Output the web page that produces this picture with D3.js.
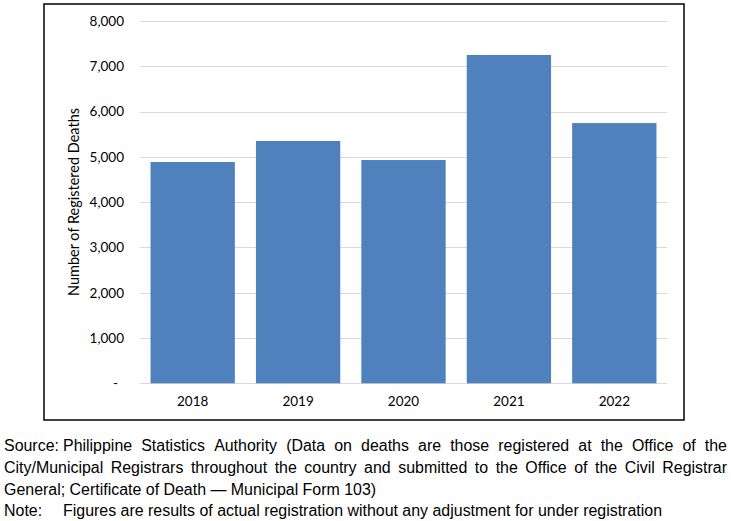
<!DOCTYPE html>
<html>
<head>
<meta charset="utf-8">
<script src="https://cdn.jsdelivr.net/npm/d3@7"></script>
<style>
  html, body { margin: 0; padding: 0; background: #fff; }
  svg { display: block; }
</style>
</head>
<body>
<svg id="chart" width="731" height="521"></svg>
<script>
const years = ["2018", "2019", "2020", "2021", "2022"];
const deaths = [4886, 5350, 4930, 7250, 5746];
const yTicks = [0, 1000, 2000, 3000, 4000, 5000, 6000, 7000, 8000];
const yTitle = "Number of Registered Deaths";
const sourceLabel = "Source:";
const sourceLine1 = "Philippine Statistics Authority (Data on deaths are those registered at the Office of the";
const sourceLine2 = "City/Municipal Registrars throughout the country and submitted to the Office of the Civil Registrar";
const sourceLine3 = "General; Certificate of Death \u2014 Municipal Form 103)";
const noteLabel = "Note:";
const noteText = "Figures are results of actual registration without any adjustment for under registration";

const svg = d3.select("#chart");
const chartFont = "Lato, Carlito, Calibri, 'Open Sans', sans-serif";
const noteFont = "'Liberation Sans Narrow', 'Arial Narrow', 'Liberation Sans', Arial, sans-serif";

// frame
svg.append("rect").attr("x", 44).attr("y", 4).attr("width", 640).attr("height", 416)
  .attr("fill", "none").attr("stroke", "#000").attr("stroke-width", 1.5);

const x = d3.scaleBand().domain(years).range([140, 667]).paddingInner(0.2).paddingOuter(0.1);
const y = d3.scaleLinear().domain([0, 8000]).range([383.3, 21]);

// gridlines
svg.append("g").selectAll("line").data(yTicks).join("line")
  .attr("x1", 140).attr("x2", 667)
  .attr("y1", d => Math.round(y(d)) + 0.5).attr("y2", d => Math.round(y(d)) + 0.5)
  .attr("stroke", "#d9d9d9").attr("stroke-width", 1);

// bars
svg.append("g").selectAll("rect").data(deaths).join("rect")
  .attr("x", (d, i) => x(years[i]))
  .attr("width", x.bandwidth())
  .attr("y", d => y(d))
  .attr("height", d => y(0) - y(d))
  .attr("fill", "#4f81bd");

// y axis labels
const yAxis = d3.axisLeft(y).tickValues(yTicks).tickSize(0).tickPadding(0)
  .tickFormat(d => d === 0 ? "-" : d3.format(",")(d));
const gy = svg.append("g").attr("transform", "translate(124,0)").call(yAxis);
gy.select(".domain").remove();
gy.selectAll("text").attr("font-family", chartFont).attr("font-size", 13.5).attr("fill", "#000")
  .attr("dx", d => d === 0 ? -6 : 0);

// x axis labels
const xAxis = d3.axisBottom(x).tickSize(0).tickPadding(0);
const gx = svg.append("g").attr("transform", "translate(0,396)").call(xAxis);
gx.select(".domain").remove();
gx.selectAll("text").attr("font-family", chartFont).attr("font-size", 13.5).attr("fill", "#000");

// y title
svg.append("text")
  .attr("transform", "translate(79,202) rotate(-90)")
  .attr("text-anchor", "middle")
  .attr("font-family", chartFont).attr("font-size", 14.5).attr("fill", "#000")
  .text(yTitle);

// footnotes
const noteSize = 16;
const gNote = svg.append("g").attr("font-family", noteFont).attr("font-size", noteSize).attr("fill", "#000");

function measure(str) {
  const t = gNote.append("text").text(str);
  const w = t.node().getComputedTextLength();
  t.remove();
  return w;
}
// horizontal scale so the note line matches reference width
const targetNoteW = 599;
const k = targetNoteW / measure(noteText);

function word(str, xPos, yPos) {
  const w = measure(str) * k;
  gNote.append("text").attr("x", xPos).attr("y", yPos)
    .attr("textLength", w).attr("lengthAdjust", "spacingAndGlyphs").text(str);
  return w;
}
function justified(str, x0, x1, yPos) {
  const words = str.split(" ");
  const widths = words.map(wd => measure(wd) * k);
  const total = d3.sum(widths);
  const gap = (x1 - x0 - total) / (words.length - 1);
  let cx = x0;
  words.forEach((wd, i) => { word(wd, cx, yPos); cx += widths[i] + gap; });
}
function plain(str, x0, yPos) {
  const w = measure(str) * k;
  gNote.append("text").attr("x", x0).attr("y", yPos)
    .attr("textLength", w).attr("lengthAdjust", "spacingAndGlyphs").text(str);
}

word(sourceLabel, 4, 451);
justified(sourceLine1, 63, 727, 451);
justified(sourceLine2, 4, 727, 473);
plain(sourceLine3, 4, 495);
word(noteLabel, 4, 516);
plain(noteText, 63, 516);
</script>
</body>
</html>
